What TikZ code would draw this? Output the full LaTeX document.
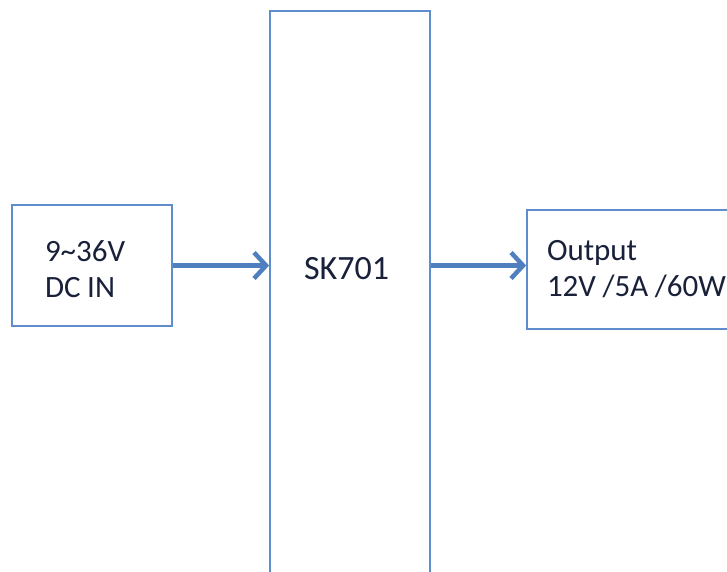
\documentclass[tikz,border=0pt]{standalone}
\usepackage{fontspec}
\setmainfont{Carlito}
\newfontfamily\blockface{Carlito}[WordSpace=0.95]
\usetikzlibrary{arrows.meta}
\definecolor{boxblue}{HTML}{5F8DCB}
\definecolor{flowblue}{HTML}{4F7FBE}
\definecolor{inktext}{HTML}{19203A}

\begin{document}
\begin{tikzpicture}[x=1pt, y=-1pt,
      block/.style={draw=boxblue, line width=1.8pt, inner sep=0pt, text=inktext,
        font=\blockface\fontsize{31}{36}\selectfont, align=flush left},
      flow/.style={draw=flowblue, line width=4.5pt,
        -{Straight Barb[length=12pt, width=26pt, line width=4.5pt]}}]
    \useasboundingbox (0,0) rectangle (727,571);
    \clip (0,0) rectangle (727,571);
    \node[block, minimum width=160pt, minimum height=121pt,
      inner xsep=33pt, text width=94pt] (dcin) at (92,265.5)
      {\rule{0pt}{29pt}9\textasciitilde36V\\DC IN};
    \node[block, minimum width=160pt, minimum height=640pt] (sk) at (350,331) {};
    \node[text=inktext, font=\fontsize{34}{40}\selectfont, inner sep=0pt] (sktext)
      at (346.5,269) {SK701};
    \node[block, minimum width=240pt, minimum height=119pt,
      inner xsep=20pt, text width=200pt] (out) at (647,269.5) {Output\\12V /5A /60W};
    \draw[flow] (dcin.east) -- (dcin.east -| sk.west);
    \draw[flow] (dcin.east -| sk.east) -- (dcin.east -| out.west);
  \end{tikzpicture}
\end{document}
